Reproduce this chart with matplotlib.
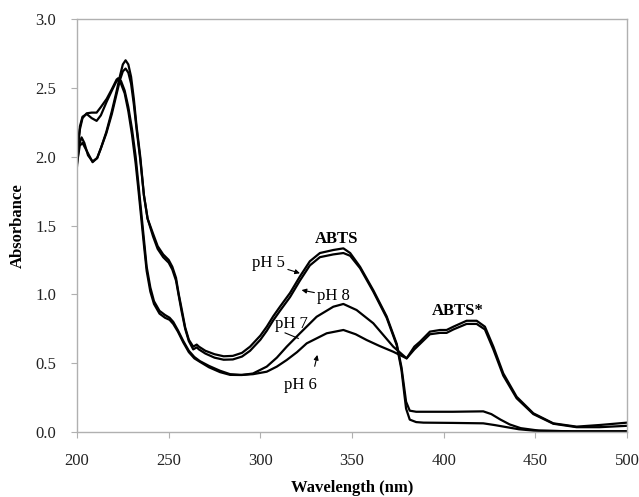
import numpy as np
import matplotlib
matplotlib.use("Agg")
import matplotlib.pyplot as plt

plt.rcParams['font.family'] = ['Liberation Serif', 'DejaVu Serif']

# UV-vis spectra (wavelength nm, absorbance)
wl_ph5 = [200, 201, 202.5, 204, 206, 208.5, 211, 213, 216, 219, 221.5, 223.5, 225, 226.5,
          228, 229.5, 231, 232.5, 234.5, 236.5, 238.5, 241.5, 244, 247, 250, 252, 254,
          255.5, 257, 259, 261, 263.4, 265.3, 266.5, 270, 275, 280, 285, 290, 294.4, 300,
          303.5, 307, 310.7, 316.2, 321.6, 327, 332.5, 339.8, 345.3, 349, 354.4, 361.6,
          368.9, 374.4, 377, 378.5, 379.5, 381.5, 385, 405, 421.6, 426, 431, 436, 442,
          452, 470, 500]
ab_ph5 = [1.93, 2.08, 2.14, 2.10, 2.01, 1.965, 1.99, 2.06, 2.18, 2.33, 2.47, 2.59, 2.67, 2.70,
          2.67, 2.58, 2.42, 2.22, 2.00, 1.72, 1.55, 1.44, 1.35, 1.29, 1.25, 1.20, 1.12,
          1.00, 0.90, 0.76, 0.67, 0.62, 0.635, 0.62, 0.59, 0.565, 0.55, 0.553, 0.575, 0.62, 0.70,
          0.765, 0.84, 0.91, 1.01, 1.13, 1.24, 1.30, 1.322, 1.334, 1.30, 1.20, 1.03,
          0.84, 0.64, 0.47, 0.32, 0.22, 0.155, 0.147, 0.147, 0.150, 0.13, 0.09, 0.055, 0.028,
          0.01, 0.005, 0.005]

wl_ph8 = [200, 201.5, 203, 205, 208.5, 211, 213, 216, 219, 221.5, 223.5, 225, 226.5,
          228, 229.5, 231, 232.5, 234.5, 236.5, 238.5, 241.5, 244, 247, 250, 252, 254,
          255.5, 257, 259, 261, 263.4, 265.3, 266.5, 270, 275, 280, 285, 290, 294.4, 300,
          303.5, 307, 310.7, 316.2, 321.6, 327, 332.5, 339.8, 345.3, 349, 354.4, 361.6,
          368.9, 374.4, 377, 378.5, 379.5, 381.5, 385, 389, 405, 421.6, 428, 434, 441,
          449, 470, 500]
ab_ph8 = [1.95, 2.08, 2.10, 2.05, 1.96, 1.99, 2.06, 2.17, 2.31, 2.45, 2.56, 2.62, 2.64,
          2.61, 2.53, 2.38, 2.20, 1.98, 1.72, 1.55, 1.42, 1.33, 1.27, 1.23, 1.18, 1.10,
          0.99, 0.88, 0.75, 0.66, 0.60, 0.615, 0.60, 0.57, 0.54, 0.525, 0.527, 0.548, 0.59, 0.67,
          0.735, 0.81, 0.88, 0.98, 1.10, 1.21, 1.27, 1.29, 1.30, 1.28, 1.19, 1.02,
          0.83, 0.63, 0.45, 0.28, 0.17, 0.09, 0.072, 0.068, 0.066, 0.063, 0.05, 0.036, 0.02,
          0.01, 0.005, 0.005]

wl_ph7 = [200, 201.6, 203, 205.3, 208, 210.7, 213, 216.2, 219, 221.6, 222.5, 224, 226,
          228, 230, 232, 233.5, 235, 236.5, 238, 240, 242, 245, 248, 250.5, 252.5, 255,
          258, 261, 264, 267, 272, 278, 283.5, 290, 296, 303.5, 309, 314.4, 321.6, 330.7,
          339.8, 345.3, 352.5, 361.6, 372.5, 379.8, 384, 387.1, 392.5, 398, 401.6, 405.3,
          412.5, 418, 422.5, 427.1, 432.5, 439.8, 448.9, 459.8, 472.5, 485, 500]
ab_ph7 = [2.00, 2.20, 2.28, 2.315, 2.32, 2.32, 2.36, 2.42, 2.49, 2.56, 2.57, 2.55, 2.48,
          2.36, 2.20, 2.00, 1.80, 1.60, 1.40, 1.20, 1.05, 0.95, 0.88, 0.85, 0.83, 0.80, 0.74,
          0.66, 0.59, 0.545, 0.515, 0.48, 0.445, 0.42, 0.414, 0.425, 0.475, 0.54, 0.62, 0.717, 0.837,
          0.91, 0.93, 0.886, 0.79, 0.62, 0.535, 0.60, 0.64, 0.71, 0.72, 0.72, 0.745,
          0.785, 0.785, 0.745, 0.60, 0.41, 0.245, 0.13, 0.06, 0.035, 0.035, 0.045]

wl_ph6 = [200, 201.6, 203, 205.3, 208, 210.7, 213, 216.2, 219, 221.6, 222.5, 224, 226,
          228, 230, 232, 233.5, 235, 236.5, 238, 240, 242, 245, 248, 250.5, 252.5, 255,
          258, 261, 264, 267, 272, 278, 283.5, 288.9, 296, 303.5, 309, 314.4, 320, 325.3,
          336.2, 345.3, 352, 358, 365, 372.5, 379.8, 384, 387.1, 392.5, 398, 401.6, 405.3,
          412.5, 418, 422.5, 427.1, 432.5, 439.8, 448.9, 459.8, 472.5, 485.3, 500]
ab_ph6 = [2.02, 2.22, 2.29, 2.31, 2.28, 2.26, 2.30, 2.40, 2.48, 2.55, 2.555, 2.53, 2.46,
          2.33, 2.16, 1.95, 1.76, 1.56, 1.36, 1.17, 1.02, 0.93, 0.86, 0.83, 0.815, 0.785, 0.73,
          0.65, 0.58, 0.535, 0.51, 0.47, 0.435, 0.415, 0.414, 0.42, 0.438, 0.475, 0.523, 0.58, 0.644,
          0.717, 0.741, 0.71, 0.668, 0.625, 0.583, 0.535, 0.62, 0.656, 0.729, 0.741, 0.741, 0.765,
          0.808, 0.808, 0.765, 0.62, 0.426, 0.256, 0.136, 0.063, 0.039, 0.051, 0.068]

x_ticks = [200, 250, 300, 350, 400, 450, 500]
y_ticks = [0.0, 0.5, 1.0, 1.5, 2.0, 2.5, 3.0]

W, H = 639, 497
fig = plt.figure(figsize=(W / 100, H / 100), dpi=100)
ax = fig.add_axes([77 / W, 65 / H, 550 / W, 413 / H])

for wl, ab in [(wl_ph5, ab_ph5), (wl_ph8, ab_ph8), (wl_ph7, ab_ph7), (wl_ph6, ab_ph6)]:
    ax.plot(wl, ab, color='black', lw=1.6, solid_joinstyle='round')

ax.set_xlim(200, 500)
ax.set_ylim(0, 3.0)
ax.set_xticks(x_ticks)
ax.set_yticks(y_ticks)
ax.set_yticklabels([f"{v:.1f}" for v in y_ticks])
ax.tick_params(direction='out', length=4, width=0.8, color='#b0b0b0',
               labelsize=12, labelcolor='#222222', pad=11)
for s in ax.spines.values():
    s.set_color('#b0b0b0')
    s.set_linewidth(1.0)

ax.set_xlabel("Wavelength (nm)", fontsize=12, fontweight='bold', labelpad=8)
ax.set_ylabel("Absorbance", fontsize=12, fontweight='bold', labelpad=7)

arrow = dict(arrowstyle='-|>', color='black', lw=0.8, mutation_scale=7, shrinkA=0, shrinkB=0)
ax.annotate("pH 5", xy=(321.6, 1.153), xytext=(313.5, 1.225), fontsize=12,
            ha='right', va='center', arrowprops=arrow)
ax.annotate("pH 8", xy=(322.5, 1.031), xytext=(331, 0.985), fontsize=12,
            ha='left', va='center', arrowprops=arrow)
ax.annotate("pH 7", xy=(320.7, 0.68), xytext=(316.7, 0.785), fontsize=12,
            ha='center', va='center')
ax.plot([313.5, 320.7], [0.72, 0.68], color='black', lw=0.8)
ax.annotate("pH 6", xy=(331.1, 0.56), xytext=(322, 0.34), fontsize=12,
            ha='center', va='center',
            arrowprops=dict(arrow, relpos=(0.85, 1.0), shrinkA=6))
ax.text(341.5, 1.40, "ABTS", fontsize=12, fontweight='bold', ha='center', va='center')
ax.text(407.5, 0.88, "ABTS*", fontsize=12, fontweight='bold', ha='center', va='center')

fig.savefig("out.png", dpi=100)
